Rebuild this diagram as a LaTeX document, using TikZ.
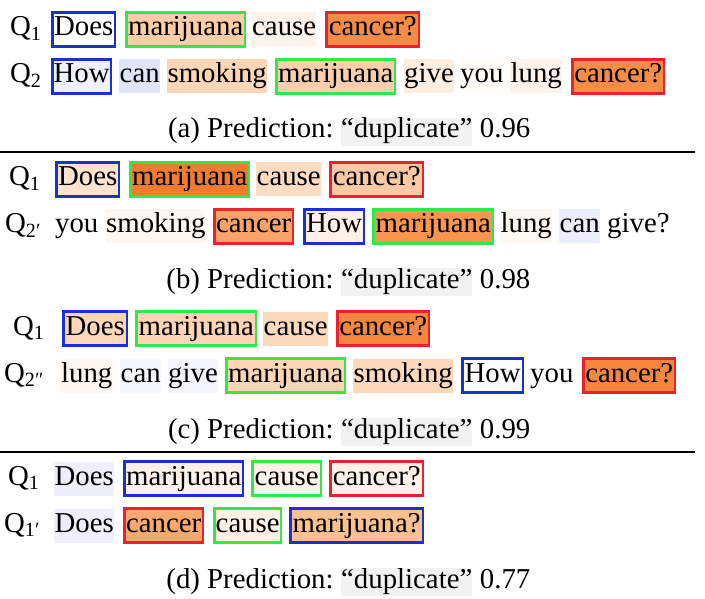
\documentclass[tikz,border=0pt]{standalone}
\usepackage{fontspec}
\setmainfont{Liberation Serif}
\definecolor{bB}{RGB}{25,50,205}
\definecolor{gB}{RGB}{50,232,72}
\definecolor{rB}{RGB}{232,35,45}
\definecolor{capgray}{RGB}{242,242,242}
\begin{document}
\begin{tikzpicture}[x=1pt,y=-1pt,
  every node/.style={font=\fontsize{28.8}{34}\selectfont, inner sep=0pt},
  fc/.style n args={3}{fill={rgb,255:red,#1;green,#2;blue,#3}},
  word/.style={anchor=base west, inner xsep=0pt, inner ysep=0pt, text height=23.5pt, text depth=10.5pt},
  bx/.style={word, draw=#1, line width=2.4pt},
  qlab/.style={anchor=base west},
  graybg/.style={anchor=base west, fill=capgray, minimum width=131pt, text height=20pt, text depth=8pt},
  rule/.style={line width=1.3pt}
]
\useasboundingbox (0,0) rectangle (705,599);

% ---------- (a) ----------
\node[qlab] (qa1) at (10,36) {Q\textsubscript{1}};
\node[bx=bB, fill=white, minimum width=62.6pt] (a1w1) at (51.2,36) {Does};
\node[bx=gB, fc={252}{205}{168}, minimum width=118.6pt] (a1w2) at (125.2,36) {marijuana};
\node[word, fc={254}{242}{234}, minimum width=63pt] (a1w3) at (252,36) {cause};
\node[bx=rB, fc={247}{140}{72}, minimum width=92.6pt] (a1w4) at (325.2,36) {cancer?};

\node[qlab] (qa2) at (10,83) {Q\textsubscript{2}};
\node[bx=bB, fc={238}{240}{252}, minimum width=58.6pt] (a2w1) at (51.2,83) {How};
\node[word, fc={226}{229}{248}, minimum width=41pt] (a2w2) at (119,83) {can};
\node[word, fc={253}{214}{184}, minimum width=100pt] (a2w3) at (167,83) {smoking};
\node[bx=gB, fc={252}{207}{172}, minimum width=118.6pt] (a2w4) at (275.2,83) {marijuana};
\node[word, fc={254}{238}{226}, minimum width=48pt] (a2w5) at (404,83) {give};
\node[word, fc={255}{252}{250}, minimum width=42pt] (a2w6) at (460,83) {you};
\node[word, fc={254}{243}{235}, minimum width=52pt] (a2w7) at (510,83) {lung};
\node[bx=rB, fc={247}{140}{72}, minimum width=91.6pt] (a2w8) at (571.2,83) {cancer?};

\node[graybg] (ga) at (341,138) {“duplicate”};
\node[anchor=base east] (pa) at ([xshift=-7.2pt]ga.base west) {(a) Prediction:};
\node[anchor=base west] (sa) at ([xshift=7.2pt]ga.base east) {0.96};

\coordinate (l1a) at (0,152);
\coordinate (l1b) at (695,152);
\draw[rule] (l1a) -- (l1b);

% ---------- (b) ----------
\node[qlab] (qb1) at (9,186) {Q\textsubscript{1}};
\node[bx=bB, fc={253}{226}{208}, minimum width=62.6pt] (b1w1) at (55.2,186) {Does};
\node[bx=gB, fc={241}{123}{48}, minimum width=118.6pt] (b1w2) at (129.2,186) {marijuana};
\node[word, fc={253}{220}{196}, minimum width=65pt] (b1w3) at (256,186) {cause};
\node[bx=rB, fc={252}{200}{165}, minimum width=92.6pt] (b1w4) at (329.2,186) {cancer?};

\node[qlab] (qb2) at (5,233) {Q\textsubscript{2′}};
\node[word, minimum width=43pt] (b2w1) at (55,233) {you};
\node[word, fc={254}{246}{240}, minimum width=98pt] (b2w2) at (106,233) {smoking};
\node[bx=rB, fc={249}{163}{106}, minimum width=78.6pt] (b2w3) at (213.2,233) {cancer};
\node[bx=bB, fc={254}{240}{230}, minimum width=59.6pt] (b2w4) at (303.2,233) {How};
\node[bx=gB, fc={248}{150}{80}, minimum width=119.6pt] (b2w5) at (372.2,233) {marijuana};
\node[word, fc={254}{248}{243}, minimum width=52pt] (b2w6) at (500,233) {lung};
\node[word, fc={236}{238}{251}, minimum width=41pt] (b2w7) at (559,233) {can};
\node[word, minimum width=62pt] (b2w8) at (607,233) {give?};

\node[graybg] (gb) at (341,288) {“duplicate”};
\node[anchor=base east] (pb) at ([xshift=-7.2pt]gb.base west) {(b) Prediction:};
\node[anchor=base west] (sb) at ([xshift=7.2pt]gb.base east) {0.98};

% ---------- (c) ----------
\node[qlab] (qc1) at (13,335) {Q\textsubscript{1}};
\node[bx=bB, fc={253}{215}{186}, minimum width=63.6pt] (c1w1) at (62.2,335) {Does};
\node[bx=gB, fc={253}{213}{182}, minimum width=119.6pt] (c1w2) at (135.2,335) {marijuana};
\node[word, fc={253}{217}{190}, minimum width=65pt] (c1w3) at (263,335) {cause};
\node[bx=rB, fc={247}{135}{63}, minimum width=91.6pt] (c1w4) at (336.2,335) {cancer?};

\node[qlab] (qc2) at (4,382) {Q\textsubscript{2″}};
\node[word, fc={254}{246}{241}, minimum width=53pt] (c2w1) at (60,382) {lung};
\node[word, fc={246}{247}{253}, minimum width=41pt] (c2w2) at (120,382) {can};
\node[word, fc={245}{246}{253}, minimum width=49pt] (c2w3) at (168,382) {give};
\node[bx=gB, fc={253}{212}{180}, minimum width=118.6pt] (c2w4) at (225.2,382) {marijuana};
\node[word, fc={253}{216}{188}, minimum width=100pt] (c2w5) at (353,382) {smoking};
\node[bx=bB, fill=white, minimum width=60.6pt] (c2w6) at (461.2,382) {How};
\node[word, minimum width=43pt] (c2w7) at (530,382) {you};
\node[bx=rB, fc={247}{135}{63}, minimum width=91.6pt] (c2w8) at (582.2,382) {cancer?};

\node[graybg] (gc) at (341,438) {“duplicate”};
\node[anchor=base east] (pc) at ([xshift=-7.2pt]gc.base west) {(c) Prediction:};
\node[anchor=base west] (sc) at ([xshift=7.2pt]gc.base east) {0.99};

\coordinate (l2a) at (0,452);
\coordinate (l2b) at (695,452);
\draw[rule] (l2a) -- (l2b);

% ---------- (d) ----------
\node[qlab] (qd1) at (8,485) {Q\textsubscript{1}};
\node[word, fc={238}{239}{251}, minimum width=60pt] (d1w1) at (54,485) {Does};
\node[bx=bB, fc={254}{242}{234}, minimum width=118.6pt] (d1w2) at (123.2,485) {marijuana};
\node[bx=gB, fc={254}{242}{234}, minimum width=68.6pt] (d1w3) at (251.2,485) {cause};
\node[bx=rB, fc={254}{242}{234}, minimum width=92.6pt] (d1w4) at (329.2,485) {cancer?};

\node[qlab] (qd2) at (4,532) {Q\textsubscript{1′}};
\node[word, fc={238}{239}{251}, minimum width=60pt] (d2w1) at (54,532) {Does};
\node[bx=rB, fc={249}{168}{112}, minimum width=78.6pt] (d2w2) at (123.2,532) {cancer};
\node[bx=gB, fc={254}{240}{228}, minimum width=66.6pt] (d2w3) at (213.2,532) {cause};
\node[bx=bB, fc={252}{193}{147}, minimum width=132.6pt] (d2w4) at (289.2,532) {marijuana?};

\node[graybg] (gd) at (341,588) {“duplicate”};
\node[anchor=base east] (pd) at ([xshift=-7.2pt]gd.base west) {(d) Prediction:};
\node[anchor=base west] (sd) at ([xshift=7.2pt]gd.base east) {0.77};
\end{tikzpicture}
\end{document}
